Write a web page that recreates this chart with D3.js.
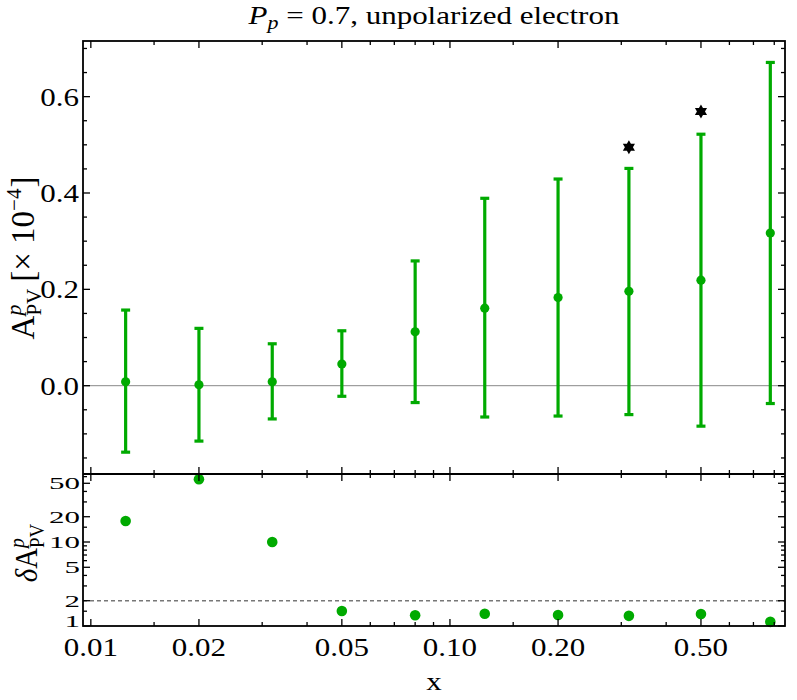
<!DOCTYPE html>
<html>
<head>
<meta charset="utf-8">
<script src="https://cdn.jsdelivr.net/npm/d3@7"></script>
<style>
  html, body { margin: 0; padding: 0; background: #fff; }
  svg { display: block; }
  text { font-family: "Liberation Serif", "Times New Roman", serif; fill: #000; }
</style>
</head>
<body>
<svg id="chart" width="797" height="700"></svg>
<script>
// ---------------- data ----------------
const xValues   = [0.0125, 0.02, 0.032, 0.05, 0.08, 0.125, 0.2, 0.315, 0.5, 0.78];
const central   = [0.008, 0.002, 0.008, 0.045, 0.112, 0.161, 0.183, 0.196, 0.219, 0.317];
const upperErr  = [0.157, 0.119, 0.087, 0.114, 0.259, 0.389, 0.429, 0.451, 0.522, 0.671];
const lowerErr  = [-0.138, -0.115, -0.069, -0.022, -0.035, -0.065, -0.063, -0.060, -0.084, -0.037];
const starX     = [0.315, 0.5];
const starY     = [0.495, 0.569];
const ratioVals = [17.8, 56, 10.0, 1.51, 1.34, 1.40, 1.35, 1.32, 1.39, 1.12];
const refLevel  = 2;

const xMajor = [0.01, 0.02, 0.05, 0.1, 0.2, 0.5];
const xMajorLabels = ["0.01", "0.02", "0.05", "0.10", "0.20", "0.50"];
const xMinor = [0.015, 0.03, 0.04, 0.06, 0.07, 0.08, 0.09, 0.15, 0.3, 0.4, 0.6, 0.7, 0.8];
const yTopMajor = [0.0, 0.2, 0.4, 0.6];
const yTopMajorLabels = ["0.0", "0.2", "0.4", "0.6"];
const yTopMinor = [-0.15, -0.1, -0.05, 0.05, 0.1, 0.15, 0.25, 0.3, 0.35, 0.45, 0.5, 0.55, 0.65, 0.7];
const yBotMajor = [1, 2, 5, 10, 20, 50];
const yBotMajorLabels = ["1", "2", "5", "10", "20", "50"];
const yBotMinor = [1.5, 3, 4, 6, 7, 8, 9, 15, 30, 40, 60];

const titleMain = " = 0.7, unpolarized electron";

// ---------------- layout ----------------
const L = 83, R = 785, T = 41, MID = 474, B = 626;
const GREEN = "#00aa00";
const FS = 31, SY = 0.84;

const svg = d3.select("#chart");

const x = d3.scaleLog().domain([0.00951, 0.857]).range([L, R]);
const yTop = d3.scaleLinear().domain([-0.1833, 0.7155]).range([MID, T]);
const yBot = d3.scaleLog().domain([1, 64.5]).range([B, MID]);

function label(g, txt, px, py, anchor, sy, fs) {
  return g.append("text")
    .attr("transform", `translate(${px},${py}) scale(1,${sy})`)
    .attr("text-anchor", anchor)
    .attr("dominant-baseline", "central")
    .style("font-size", (fs || FS) + "px")
    .text(txt);
}

// ---------------- top panel ----------------
const gTop = svg.append("g");
gTop.append("line")
  .attr("x1", L).attr("x2", R)
  .attr("y1", yTop(0)).attr("y2", yTop(0))
  .attr("stroke", "#888").attr("stroke-width", 1);

const capW = 4.5;
const bars = gTop.selectAll("g.bar").data(xValues.map((v, i) => ({x: v, c: central[i], u: upperErr[i], l: lowerErr[i]})))
  .enter().append("g").attr("class", "bar");
bars.append("line")
  .attr("x1", d => x(d.x)).attr("x2", d => x(d.x))
  .attr("y1", d => yTop(d.u)).attr("y2", d => yTop(d.l))
  .attr("stroke", GREEN).attr("stroke-width", 3.2);
bars.append("line")
  .attr("x1", d => x(d.x) - capW).attr("x2", d => x(d.x) + capW)
  .attr("y1", d => yTop(d.u)).attr("y2", d => yTop(d.u))
  .attr("stroke", GREEN).attr("stroke-width", 3.2);
bars.append("line")
  .attr("x1", d => x(d.x) - capW).attr("x2", d => x(d.x) + capW)
  .attr("y1", d => yTop(d.l)).attr("y2", d => yTop(d.l))
  .attr("stroke", GREEN).attr("stroke-width", 3.2);
bars.append("circle")
  .attr("cx", d => x(d.x)).attr("cy", d => yTop(d.c))
  .attr("r", 4.6).attr("fill", GREEN);

function hexagram(Ro) {
  const Ri = Ro / Math.sqrt(3);
  const p = d3.path();
  for (let k = 0; k < 12; k++) {
    const a = -Math.PI / 2 + k * Math.PI / 6;
    const r = k % 2 === 0 ? Ro : Ri;
    const px = r * Math.cos(a), py = r * Math.sin(a);
    if (k === 0) p.moveTo(px, py); else p.lineTo(px, py);
  }
  p.closePath();
  return p.toString();
}
gTop.selectAll("path.star").data(starX.map((v, i) => ({x: v, y: starY[i]})))
  .enter().append("path").attr("class", "star")
  .attr("d", hexagram(7))
  .attr("transform", d => `translate(${x(d.x)},${yTop(d.y)})`)
  .attr("fill", "#000");

// ---------------- bottom panel ----------------
const gBot = svg.append("g");
gBot.append("line")
  .attr("x1", L).attr("x2", R)
  .attr("y1", yBot(refLevel)).attr("y2", yBot(refLevel))
  .attr("stroke", "#777").attr("stroke-width", 1.4)
  .attr("stroke-dasharray", "4,3");
gBot.selectAll("circle.r").data(xValues.map((v, i) => ({x: v, y: ratioVals[i]})))
  .enter().append("circle").attr("class", "r")
  .attr("cx", d => x(d.x)).attr("cy", d => yBot(d.y))
  .attr("r", 5.3).attr("fill", GREEN);

// ---------------- ticks ----------------
const gAx = svg.append("g").attr("stroke", "#000").attr("stroke-width", 1.3);
const MAJ = 7, MIN = 4;
function vTicks(vals, len, y0, dir) {
  vals.forEach(v => {
    gAx.append("line").attr("x1", x(v)).attr("x2", x(v))
      .attr("y1", y0).attr("y2", y0 + dir * len);
  });
}
function hTicks(scale, vals, len, x0, dir) {
  vals.forEach(v => {
    gAx.append("line").attr("x1", x0).attr("x2", x0 + dir * len)
      .attr("y1", scale(v)).attr("y2", scale(v));
  });
}
vTicks(xMajor, MAJ, T, 1); vTicks(xMinor, MIN, T, 1);
vTicks(xMajor, MAJ, MID, 1); vTicks(xMinor, MIN, MID, 1);
vTicks(xMajor, MAJ, MID, -1); vTicks(xMinor, MIN, MID, -1);
vTicks(xMajor, MAJ, B, -1); vTicks(xMinor, MIN, B, -1);
hTicks(yTop, yTopMajor, MAJ, L, 1); hTicks(yTop, yTopMinor, MIN, L, 1);
hTicks(yTop, yTopMajor, MAJ, R, -1); hTicks(yTop, yTopMinor, MIN, R, -1);
hTicks(yBot, yBotMajor, MAJ, L, 1); hTicks(yBot, yBotMinor, MIN, L, 1);
hTicks(yBot, yBotMajor, MAJ, R, -1); hTicks(yBot, yBotMinor, MIN, R, -1);

svg.append("rect").attr("x", L).attr("y", T).attr("width", R - L).attr("height", B - T)
  .attr("fill", "none").attr("stroke", "#000").attr("stroke-width", 1.8);
svg.append("line").attr("x1", L).attr("x2", R).attr("y1", MID).attr("y2", MID)
  .attr("stroke", "#000").attr("stroke-width", 1.8);

// ---------------- tick labels ----------------
const gLab = svg.append("g");
xMajor.forEach((v, i) => label(gLab, xMajorLabels[i], x(v), 647, "middle", SY));
yTopMajor.forEach((v, i) => label(gLab, yTopMajorLabels[i], L - 4, yTop(v), "end", SY));
yBotMajor.forEach((v, i) => label(gLab, yBotMajorLabels[i], L - 3, Math.min(yBot(v), 621.5), "end", 0.56));

// ---------------- titles ----------------
const tt = svg.append("text")
  .attr("x", (L + R) / 2).attr("y", 24)
  .attr("text-anchor", "middle")
  .attr("transform", `translate(0,${24 * (1 - SY)}) scale(1,${SY})`)
  .style("font-size", FS + "px");
tt.append("tspan").style("font-style", "italic").text("P");
tt.append("tspan").style("font-style", "italic").style("font-size", "22px").attr("dy", 6).text("p");
tt.append("tspan").attr("dy", -6).text(titleMain);

label(svg, "x", (L + R) / 2, 681, "middle", SY);

function compositeLabel(cx, cy, pieces, sx) {
  const g = svg.append("g");
  const inner = g.append("g");
  let cur = 0;
  pieces.forEach(p => {
    const t = inner.append("text")
      .attr("x", cur + (p.dx || 0)).attr("y", p.dy || 0)
      .style("font-size", p.fs + "px")
      .style("font-style", p.italic ? "italic" : "normal")
      .text(p.t);
    const w = t.node().getComputedTextLength();
    if (p.stackWith != null) {
      const prev = pieces[p.stackWith];
      t.attr("x", prev._x);
      p._x = prev._x;
      cur = Math.max(cur, prev._x + w);
    } else {
      p._x = cur + (p.dx || 0);
      cur = p._x + w;
    }
  });
  inner.attr("transform", `translate(${-cur / 2},0)`);
  g.attr("transform", `translate(${cx},${cy}) rotate(-90) scale(${sx},1)`);
  return g;
}
compositeLabel(34, 258, [
  {t: "A", fs: 33},
  {t: "PV", fs: 21, dy: 7},
  {t: "p", fs: 22, dy: -13, italic: true, stackWith: 1},
  {t: "[× 10", fs: 33, dx: 7},
  {t: "−4", fs: 21, dy: -13},
  {t: "]", fs: 33, dx: 1}
], 1.0);
compositeLabel(37, 553, [
  {t: "δ", fs: 32, italic: true},
  {t: "A", fs: 32},
  {t: "PV", fs: 21, dy: 7},
  {t: "p", fs: 22, dy: -13, italic: true, stackWith: 2}
], 0.9);
</script>
</body>
</html>
